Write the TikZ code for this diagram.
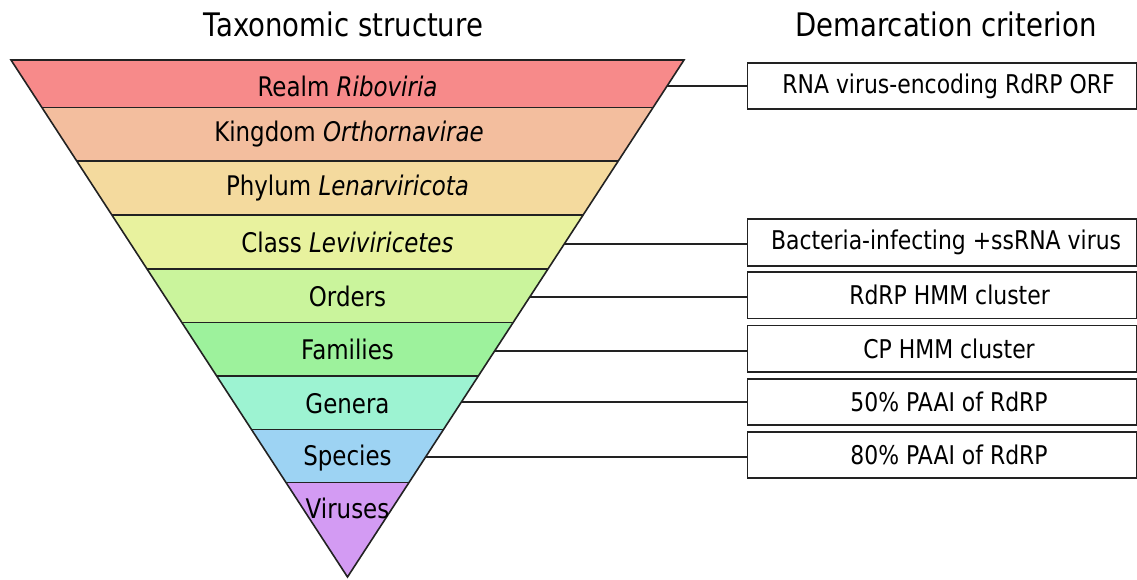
\documentclass[tikz,border=0pt]{standalone}
\usepackage{fontspec}
\setmainfont{DejaVu Sans}[FakeStretch=0.85]
\usetikzlibrary{calc}
\definecolor{cRealm}{HTML}{F78A8A}
\definecolor{cKing}{HTML}{F3BE9E}
\definecolor{cPhyl}{HTML}{F4DA9E}
\definecolor{cClass}{HTML}{E8F29E}
\definecolor{cOrd}{HTML}{CAF49C}
\definecolor{cFam}{HTML}{9DF29C}
\definecolor{cGen}{HTML}{9DF3D2}
\definecolor{cSpe}{HTML}{9DD3F3}
\definecolor{cVir}{HTML}{D39BF3}
\definecolor{ln}{HTML}{222222}
\tikzset{
  band/.style={font=\fontsize{27}{30}\selectfont, inner sep=0pt, anchor=center},
  title/.style={font=\fontsize{32.4}{36}\selectfont, inner sep=0pt},
  critbox/.style={draw=ln, line width=1.6pt, minimum width=389.5pt, minimum height=46.5pt, inner sep=0pt, anchor=west},
  crittext/.style={font=\fontsize{25.8}{28}\selectfont, inner sep=0pt},
  conn/.style={draw=ln, line width=1.6pt},
  sep/.style={draw=ln, line width=1.6pt}
}
\begin{document}
\begin{tikzpicture}[x=1pt,y=-1pt]
\useasboundingbox (0,0) rectangle (1137,579);
\coordinate (TL) at (11,60);
\coordinate (TR) at (684,60);
\coordinate (A) at (347.5,577);
% bands
\foreach \ta/\tb/\col in {0/0.0919/cRealm,0.0919/0.1954/cKing,0.1954/0.2998/cPhyl,0.2998/0.4043/cClass,0.4043/0.5077/cOrd,0.5077/0.6112/cFam,0.6112/0.7147/cGen,0.7147/0.8172/cSpe}{
  \fill[\col] ($(TL)!\ta!(A)$) -- ($(TR)!\ta!(A)$) -- ($(TR)!\tb!(A)$) -- ($(TL)!\tb!(A)$) -- cycle;
}
\fill[cVir] ($(TL)!0.8172!(A)$) -- ($(TR)!0.8172!(A)$) -- (A) -- cycle;
\foreach \t in {0.0919,0.1954,0.2998,0.4043,0.5077,0.6112,0.7147,0.8172}{
  \draw[sep] ($(TL)!\t!(A)$) -- ($(TR)!\t!(A)$);
}
\draw[sep, line join=miter] (TL) -- (TR) -- (A) -- cycle;
% labels
\node[band] (l1) at (347.5,86) {Realm \textit{Riboviria}};
\node[band] (l2) at (349,134.5) {Kingdom \textit{Orthornavirae}};
\node[band] (l3) at (347.5,188.5) {Phylum \textit{Lenarviricota}};
\node[band] (l4) at (347.5,242.5) {Class \textit{Leviviricetes}};
\node[band] (l5) at (347.5,296) {Orders};
\node[band] (l6) at (347.5,349.5) {Families};
\node[band] (l7) at (347.5,403.5) {Genera};
\node[band] (l8) at (347.5,458) {Species};
\node[band] (l9) at (347.5,508.5) {Viruses};
% titles
\node[title] (t1) at (343.5,24) {Taxonomic structure};
\node[title] (t2) at (946,24) {Demarcation criterion};
% criterion boxes
\node[critbox] (b1) at (746.5,86) {};
\node[critbox] (b2) at (746.5,242.5) {};
\node[critbox] (b3) at (746.5,295.3) {};
\node[critbox] (b4) at (746.5,348.7) {};
\node[critbox] (b5) at (746.5,402) {};
\node[critbox] (b6) at (746.5,455) {};
\node[crittext] (c1) at ([xshift=6.5pt]b1.center) {RNA virus-encoding RdRP ORF};
\node[crittext] (c2) at ([xshift=4pt]b2.center) {Bacteria-infecting +ssRNA virus};
\node[crittext] (c3) at ([xshift=7.5pt]b3.center) {RdRP HMM cluster};
\node[crittext] (c4) at ([xshift=7pt]b4.center) {CP HMM cluster};
\node[crittext] (c5) at ([xshift=7pt]b5.center) {50\% PAAI of RdRP};
\node[crittext] (c6) at ([xshift=7pt]b6.center) {80\% PAAI of RdRP};
% connectors
\coordinate (e1) at ($(TR)!0.0503!(A)$);
\coordinate (e2) at ($(TR)!0.3559!(A)$);
\coordinate (e3) at ($(TR)!0.4584!(A)$);
\coordinate (e4) at ($(TR)!0.5629!(A)$);
\coordinate (e5) at ($(TR)!0.6615!(A)$);
\coordinate (e6) at ($(TR)!0.7679!(A)$);
\draw[conn] (e1) -- (e1 -| b1.west);
\draw[conn] (e2) -- (e2 -| b2.west);
\draw[conn] (e3) -- (e3 -| b3.west);
\draw[conn] (e4) -- (e4 -| b4.west);
\draw[conn] (e5) -- (e5 -| b5.west);
\draw[conn] (e6) -- (e6 -| b6.west);
\end{tikzpicture}
\end{document}
